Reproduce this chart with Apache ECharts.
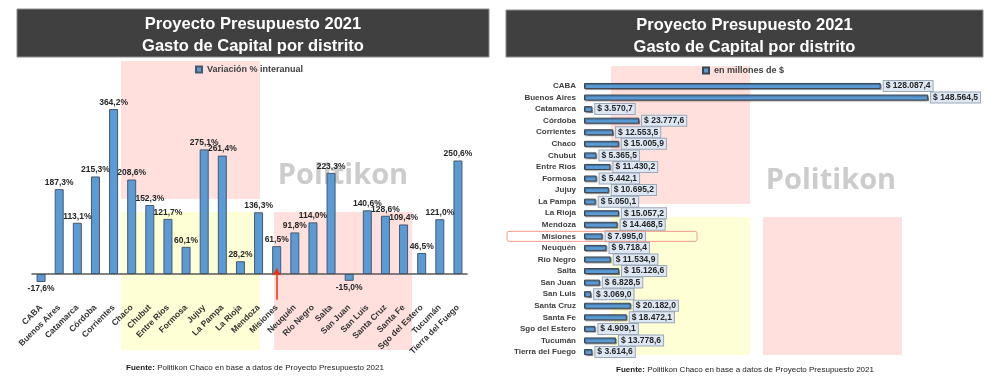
<!DOCTYPE html>
<html><head><meta charset="utf-8">
<script src="https://cdn.jsdelivr.net/npm/echarts@6/dist/echarts.min.js"></script>
<style>html,body{margin:0;padding:0;background:#fff}#c{width:1000px;height:383px}</style>
</head><body><div id="c"></div>
<script>
const categories = ['CABA','Buenos Aires','Catamarca','Córdoba','Corrientes','Chaco','Chubut','Entre Ríos','Formosa','Jujuy','La Pampa','La Rioja','Mendoza','Misiones','Neuquén','Río Negro','Salta','San Juan','San Luis','Santa Cruz','Santa Fe','Sgo del Estero','Tucumán','Tierra del Fuego'];
const variacionPct = [-17.6,187.3,113.1,215.3,364.2,208.6,152.3,121.7,60.1,275.1,261.4,28.2,136.3,61.5,91.8,114.0,223.3,-15.0,140.6,128.6,109.4,46.5,121.0,250.6];
const gastoMillones = [128087.4,148564.5,3570.7,23777.6,12553.5,15005.9,5365.5,11430.2,5442.1,10695.2,5050.1,15057.2,14468.5,7995.0,9718.4,11534.9,15126.6,6828.5,3069.0,20182.0,18472.1,4909.1,13778.6,3614.6];
const titleLines = ['Proyecto Presupuesto 2021','Gasto de Capital por distrito'];
const legendNames = ['Variación % interanual','en millones de $'];
const sourceNote = 'Politikon Chaco en base a datos de Proyecto Presupuesto 2021';
const watermark = 'Politikon';
const highlighted = 'Misiones';

const FF = '"Liberation Sans", Arial, sans-serif';
function fmtES(v){
  const s = Math.abs(v).toFixed(1).split('.');
  const i = s[0].replace(/\B(?=(\d{3})+(?!\d))/g, '.');
  return (v < 0 ? '-' : '') + i + ',' + s[1];
}
const PINK = '#ffe0dd', YELLOW = '#ffffd6';
const WM = {align:'center', verticalAlign:'middle', fontSize:29, fontWeight:'bold', fontFamily:'"Open Sans", sans-serif', fill:'#cccccc'};
const chart = echarts.init(document.getElementById('c'), null, {renderer:'canvas'});
const option = {
  animation: false,
  textStyle: {fontFamily: FF},
  graphic: [
    {id:'tb1', type:'rect', z:-5, shape:{x:17,y:9,width:472,height:48}, style:{fill:'#404040', stroke:'#8c8c8c', lineWidth:1}},
    {id:'tb2', type:'rect', z:-5, shape:{x:506,y:10,width:477,height:47}, style:{fill:'#404040', stroke:'#8c8c8c', lineWidth:1}},
    {id:'p1', type:'rect', z:-10, shape:{x:121,y:61,width:139,height:138}, style:{fill:PINK}},
    {id:'y1', type:'rect', z:-10, shape:{x:121,y:212,width:139,height:138}, style:{fill:YELLOW}},
    {id:'p2', type:'rect', z:-10, shape:{x:274,y:212,width:138,height:138}, style:{fill:PINK}},
    {id:'p3', type:'rect', z:-10, shape:{x:611,y:66,width:139,height:138}, style:{fill:PINK}},
    {id:'y2', type:'rect', z:-10, shape:{x:611,y:217,width:139,height:138}, style:{fill:YELLOW}},
    {id:'p4', type:'rect', z:-10, shape:{x:763,y:217,width:139,height:138}, style:{fill:PINK}},
    {id:'w1', type:'text', z:-8, style:Object.assign({text:watermark, x:343, y:176}, WM)},
    {id:'w2', type:'text', z:-8, style:Object.assign({text:watermark, x:831, y:181}, WM)}
  ],
  title: [
    {text: titleLines.join('\n'), left:253, top:13, textAlign:'center', padding:0,
     textStyle:{color:'#fff', fontSize:16.5, fontWeight:'bold', lineHeight:22, fontFamily:FF}},
    {text: titleLines.join('\n'), left:744.5, top:14, textAlign:'center', padding:0,
     textStyle:{color:'#fff', fontSize:16.5, fontWeight:'bold', lineHeight:22, fontFamily:FF}},
    {text: '{b|Fuente:} ' + sourceNote, left:255, top:364, textAlign:'center', padding:0,
     textStyle:{fontSize:8, fontWeight:'normal', color:'#1a1a1a', fontFamily:FF, rich:{b:{fontSize:8, fontWeight:'bold', color:'#1a1a1a', fontFamily:FF}}}},
    {text: '{b|Fuente:} ' + sourceNote, left:745, top:366, textAlign:'center', padding:0,
     textStyle:{fontSize:8, fontWeight:'normal', color:'#1a1a1a', fontFamily:FF, rich:{b:{fontSize:8, fontWeight:'bold', color:'#1a1a1a', fontFamily:FF}}}}
  ],
  legend: [
    {data:[legendNames[0]], left:195, top:65, padding:0, icon:'rect', itemWidth:6, itemHeight:6, itemGap:3,
     textStyle:{fontSize:9, fontWeight:'bold', color:'#404040', fontFamily:FF}},
    {data:[legendNames[1]], left:702, top:66, padding:0, icon:'rect', itemWidth:6, itemHeight:6, itemGap:3,
     textStyle:{fontSize:9, fontWeight:'bold', color:'#404040', fontFamily:FF}}
  ],
  grid: [
    {left:32, top:92.8, width:435, height:208.4},
    {left:584, top:80.2, width:370.6, height:277.6}
  ],
  xAxis: [
    {gridIndex:0, type:'category', data:categories, position:'bottom',
     axisLine:{show:false, onZero:false}, axisTick:{show:false}, splitLine:{show:false},
     axisLabel:{interval:0, rotate:45, margin:5, fontSize:8.5, fontWeight:'bold', color:'#333', fontFamily:FF}},
    {gridIndex:0, type:'category', data:categories, position:'bottom',
     axisLine:{show:true, onZero:true, lineStyle:{color:'#595959', width:1.5}}, axisTick:{show:false}, axisLabel:{show:false}, splitLine:{show:false}},
    {gridIndex:1, type:'value', min:0, max:160000, show:false, splitLine:{show:false}}
  ],
  yAxis: [
    {gridIndex:0, type:'value', min:-60, max:400, show:false, splitLine:{show:false}},
    {gridIndex:1, type:'category', data:categories, inverse:true,
     axisLine:{show:false}, axisTick:{show:false}, splitLine:{show:false},
     axisLabel:{interval:0, margin:8, fontSize:8, fontWeight:'bold', color:'#404040', fontFamily:FF}}
  ],
  series: [
    {type:'bar', name:legendNames[0], xAxisIndex:0, yAxisIndex:0, barWidth:9,
     data: variacionPct.map(v => ({value:v, label:{position: v < 0 ? 'bottom' : 'top'}})),
     itemStyle:{color:'#5b9bd5', borderColor:'#46586e', borderWidth:1},
     label:{show:true, distance:2, formatter:p => fmtES(p.value) + '%', fontSize:8.5, fontWeight:'bold', color:'#262626', fontFamily:FF},
     markLine:{silent:true, symbol:['none','arrow'], symbolSize:[6,7], label:{show:false},
       lineStyle:{color:'#ff2a00', width:1.5, type:'solid'},
       data:[[{xAxis:highlighted, yAxis:-57}, {xAxis:highlighted, yAxis:12}]]}
    },
    {type:'bar', name:legendNames[1], xAxisIndex:2, yAxisIndex:1, barWidth:6,
     data: gastoMillones,
     itemStyle:{color:'#5b9bd5', borderColor:'#3d4650', borderWidth:1, shadowColor:'rgba(0,0,0,0.35)', shadowOffsetX:1, shadowOffsetY:1, shadowBlur:1},
     label:{show:true, position:'right', distance:3, formatter:p => '$ ' + fmtES(p.value),
       fontSize:8.5, fontWeight:'bold', color:'#262626', fontFamily:FF, lineHeight:9,
       backgroundColor:'#dde8f4', borderColor:'#9aa8b8', borderWidth:1, padding:[1,2,0,2]}
    }
  ]
};
chart.setOption(option);
const hy = chart.convertToPixel({yAxisIndex:1}, highlighted);
chart.setOption({graphic:[
  {id:'hl', type:'rect', z:10, shape:{x:507, y:hy-5, width:190, height:10, r:2}, style:{fill:'none', stroke:'#f29a88', lineWidth:1}}
]});
</script></body></html>
